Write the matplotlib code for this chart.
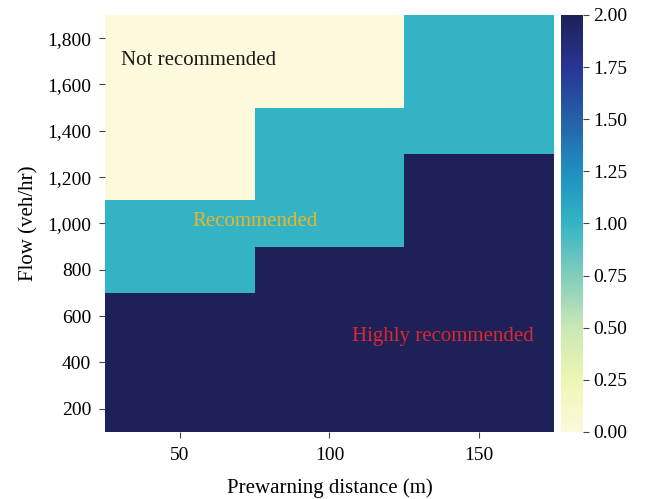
import numpy as np
import matplotlib
matplotlib.use("Agg")
import matplotlib.pyplot as plt
from matplotlib.colors import LinearSegmentedColormap
from matplotlib.ticker import FuncFormatter

plt.rcParams['font.family'] = ['Liberation Serif', 'DejaVu Serif']

# prewarning distance (m) and traffic flow (veh/hr)
distance = [50, 100, 150]
flow = [200, 400, 600, 800, 1000, 1200, 1400, 1600, 1800]

# recommendation level: 0 = not, 1 = recommended, 2 = highly recommended
# one list per distance, bottom (200) to top (1800)
level_50 = [2, 2, 2, 1, 1, 0, 0, 0, 0]
level_100 = [2, 2, 2, 2, 1, 1, 1, 0, 0]
level_150 = [2, 2, 2, 2, 2, 2, 1, 1, 1]

grid = np.array([level_50, level_100, level_150]).T

# YlGnBu-style ramp, slightly muted
ramp = ['#fcf9dc', '#edf6b3', '#c9e8b6', '#82ccbc', '#34b4c5',
        '#1f8fc0', '#2461a8', '#283594', '#1d2157']
cmap = LinearSegmentedColormap.from_list('ylgnbu_soft', ramp)

def edges(centers):
    c = np.asarray(centers, dtype=float)
    step = c[1] - c[0]
    return np.concatenate([c - step / 2, [c[-1] + step / 2]])

fig = plt.figure(figsize=(6.5, 4.99), dpi=100)
ax = fig.add_axes([0.1615, 0.1343, 0.6908, 0.8357])
cax = fig.add_axes([0.863, 0.1343, 0.034, 0.8357])

mesh = ax.pcolormesh(edges(distance), edges(flow), grid, cmap=cmap,
                     vmin=0, vmax=2, shading='flat')

ax.set_xticks(distance)
ax.set_yticks(flow)
ax.yaxis.set_major_formatter(FuncFormatter(lambda v, p: f"{int(v):,}"))
ax.tick_params(labelsize=14, length=4, color='#444444')
ax.tick_params(axis='x', pad=7)
ax.tick_params(axis='y', pad=6)
for s in ax.spines.values():
    s.set_visible(False)
ax.set_xlabel("Prewarning distance (m)", fontsize=15, labelpad=10)
ax.set_ylabel("Flow (veh/hr)", fontsize=15, labelpad=6)

ax.text(30.5, 1705, "Not recommended", fontsize=15, color='#1a1a1a',
        ha='left', va='center')
ax.text(75, 1008, "Recommended", fontsize=15, color='#e8b52a',
        ha='center', va='center')
ax.text(138, 511, "Highly recommended", fontsize=15, color='#dc2732',
        ha='center', va='center')

cb = fig.colorbar(mesh, cax=cax, ticks=np.arange(0, 2.01, 0.25))
cb.outline.set_visible(False)
cb.ax.yaxis.set_major_formatter(FuncFormatter(lambda v, p: f"{v:.2f}"))
cb.ax.tick_params(labelsize=14, length=4, color='#444444')

fig.savefig("out.png", dpi=100)
